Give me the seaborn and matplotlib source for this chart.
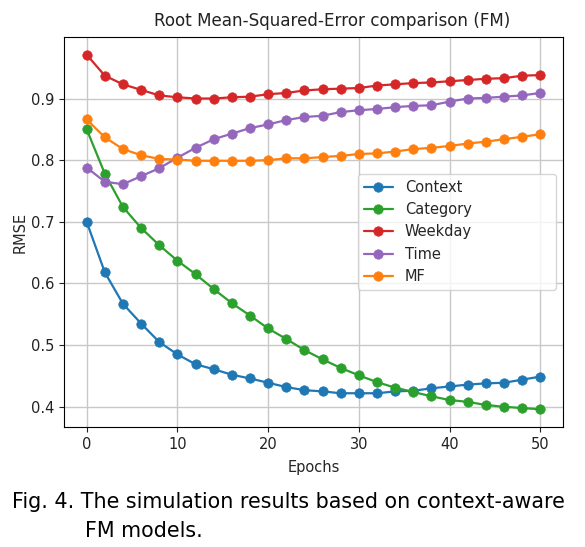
import numpy as np
import pandas as pd
import matplotlib
matplotlib.use("Agg")
import matplotlib.pyplot as plt
import seaborn as sns

epochs = list(range(0, 51, 2))
model_names = ["Context", "Category", "Weekday", "Time", "MF"]
context = [0.700, 0.618, 0.567, 0.535, 0.505, 0.485, 0.469, 0.461, 0.452, 0.446,
           0.439, 0.432, 0.427, 0.425, 0.422, 0.422, 0.422, 0.425, 0.426, 0.430,
           0.433, 0.436, 0.438, 0.439, 0.444, 0.449]
category = [0.850, 0.778, 0.724, 0.690, 0.662, 0.637, 0.615, 0.591, 0.568, 0.548,
            0.527, 0.510, 0.492, 0.477, 0.463, 0.451, 0.440, 0.431, 0.424, 0.417,
            0.411, 0.408, 0.403, 0.400, 0.398, 0.396]
weekday = [0.971, 0.937, 0.923, 0.914, 0.905, 0.902, 0.900, 0.900, 0.902, 0.903,
           0.907, 0.909, 0.913, 0.915, 0.916, 0.917, 0.921, 0.923, 0.925, 0.926,
           0.928, 0.930, 0.932, 0.933, 0.937, 0.938]
time_ = [0.788, 0.765, 0.761, 0.774, 0.787, 0.804, 0.820, 0.834, 0.843, 0.852,
         0.858, 0.865, 0.870, 0.872, 0.878, 0.881, 0.883, 0.886, 0.888, 0.889,
         0.895, 0.900, 0.901, 0.903, 0.905, 0.909]
mf = [0.866, 0.837, 0.818, 0.808, 0.802, 0.801, 0.799, 0.799, 0.799, 0.799,
      0.800, 0.803, 0.803, 0.805, 0.807, 0.810, 0.811, 0.814, 0.818, 0.820,
      0.823, 0.827, 0.830, 0.834, 0.838, 0.842]
colors = ["#1f77b4", "#2ca02c", "#d62728", "#9467bd", "#ff7f0e"]

title = "Root Mean-Squared-Error comparison (FM)"
xlabel = "Epochs"
ylabel = "RMSE"
caption1 = "Fig. 4. The simulation results based on context-aware"
caption2 = "FM models."

series = [context, category, weekday, time_, mf]
df = pd.concat([pd.DataFrame({"Epochs": epochs, "RMSE": vals, "Model": name})
                for name, vals in zip(model_names, series)], ignore_index=True)

sns.set_style("whitegrid", {"axes.edgecolor": "black", "grid.color": "#c8c8c8",
                            "axes.linewidth": 1.0, "xtick.bottom": True, "ytick.left": True})
plt.rcParams["font.family"] = ["DejaVu Sans"]

W, H = 585, 547
fig = plt.figure(figsize=(W / 100, H / 100), dpi=100)
ax_l, ax_r, ax_t, ax_b = 64, 563, 37, 427
ax = fig.add_axes([ax_l / W, 1 - ax_b / H, (ax_r - ax_l) / W, (ax_b - ax_t) / H])

sns.lineplot(data=df, x="Epochs", y="RMSE", hue="Model", hue_order=model_names,
             palette=colors, marker="o", markersize=6.8, linewidth=1.6, ax=ax)
for line in ax.lines:
    line.set_markeredgecolor(line.get_color())
    line.set_markeredgewidth(0.5)

handles, labels = ax.get_legend_handles_labels()
for h in handles:
    h.set_markeredgecolor(h.get_color())
lx0 = (358 - ax_l) / (ax_r - ax_l)
lx1 = (556 - ax_l) / (ax_r - ax_l)
ax.legend(handles, labels, loc="center left", fontsize=10.5, frameon=True,
          bbox_to_anchor=(lx0, 0.3, lx1 - lx0, 0.4), mode="expand",
          borderaxespad=0.0)

ax.set_xticks([0, 10, 20, 30, 40, 50])
ax.set_yticks([0.4, 0.5, 0.6, 0.7, 0.8, 0.9])
ax.tick_params(axis="both", labelsize=10.5, colors="#222222", length=3.5, width=0.8)
ax.set_xlabel(xlabel, fontsize=10.5, labelpad=6)
ax.set_ylabel(ylabel, fontsize=10.5, labelpad=2)
ax.grid(True, color="#c8c8c8", linewidth=1.0)

t = ax.set_title(title, fontsize=13, pad=8, color="#222222",
                 x=(332 - ax_l) / (ax_r - ax_l))

cap_font = ["DejaVu Sans"]
c1 = fig.text(12 / W, 1 - 508.5 / H, caption1, fontsize=14, family=cap_font,
              ha="left", va="baseline", color="black")
c2 = fig.text(85 / W, 1 - 537 / H, caption2, fontsize=14, family=cap_font,
              ha="left", va="baseline", color="black")

fig.canvas.draw()
r = fig.canvas.get_renderer()
bb = c1.get_window_extent(r)
scale = (565 - 12) / bb.width
c1.set_fontsize(14 * scale)
c2.set_fontsize(14 * scale)
bb = t.get_window_extent(r)
t.set_fontsize(13 * 357 / bb.width)

fig.savefig("out.png", dpi=100)
